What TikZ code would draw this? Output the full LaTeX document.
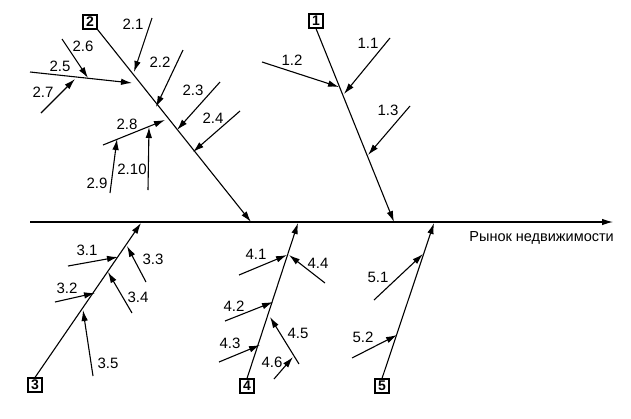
\documentclass[tikz,border=0pt]{standalone}
\usepackage{fontspec}
\setmainfont{Liberation Sans}
\usetikzlibrary{arrows.meta}
\begin{document}
\begin{tikzpicture}[x=1pt,y=-1pt,
  bone/.style={line width=1.1pt,-{Latex[length=11pt,width=6.5pt]}},
  lbl/.style={font=\fontsize{15}{17}\selectfont,inner sep=0pt},
  numbox/.style={draw,line width=1.1pt,font=\fontsize{14}{16}\selectfont\bfseries,inner sep=0.8pt,minimum width=14pt,minimum height=14pt}]
\useasboundingbox (0,0) rectangle (631,418);
% spine
\coordinate (s0) at (30,222);
\coordinate (s1) at (613,222);
\draw[bone] (s0) -- (s1);
\node[lbl,anchor=north east,font=\fontsize{14.5}{16}\selectfont] (res) at (614,231) {Рынок недвижимости};
% bone 1
\node[numbox] (b1) at (316,21) {1};
\coordinate (e1) at (394,222);
\draw[bone] (b1.south) -- (e1);
\coordinate (a11s) at (390,38); \coordinate (a11e) at (344,94);
\coordinate (a12s) at (262,62); \coordinate (a12e) at (339,87);
\coordinate (a13s) at (410,106); \coordinate (a13e) at (368,155);
\draw[bone] (a11s) -- (a11e);
\draw[bone] (a12s) -- (a12e);
\draw[bone] (a13s) -- (a13e);
\node[lbl] (l11) at (368,43) {1.1};
\node[lbl] (l12) at (292,60) {1.2};
\node[lbl] (l13) at (388,110) {1.3};
% bone 2
\node[numbox] (b2) at (90,22) {2};
\coordinate (e2) at (251,222);
\draw[bone] (b2.south east) -- (e2);
\coordinate (a21s) at (152,18); \coordinate (a21e) at (134,72);
\coordinate (a22s) at (183,50); \coordinate (a22e) at (156,107);
\coordinate (a23s) at (220,82); \coordinate (a23e) at (177,130);
\coordinate (a24s) at (240,111); \coordinate (a24e) at (193,152);
\coordinate (a25s) at (30,72); \coordinate (a25e) at (132,83);
\coordinate (a26s) at (62,39); \coordinate (a26e) at (88,78);
\coordinate (a27s) at (41,113); \coordinate (a27e) at (75,79);
\coordinate (a28s) at (103,145); \coordinate (a28e) at (165,120);
\coordinate (a29s) at (110,193); \coordinate (a29e) at (117,139);
\coordinate (a210s) at (148,190); \coordinate (a210e) at (149,127);
\foreach \k in {21,22,23,24,25,26,27,28,29,210}{\draw[bone] (a\k s) -- (a\k e);}
\node[lbl] (l21) at (133,24) {2.1};
\node[lbl] (l22) at (160,62) {2.2};
\node[lbl] (l23) at (193,90) {2.3};
\node[lbl] (l24) at (213,118) {2.4};
\node[lbl] (l25) at (60,66) {2.5};
\node[lbl] (l26) at (83,46) {2.6};
\node[lbl] (l27) at (43,92) {2.7};
\node[lbl] (l28) at (127,124) {2.8};
\node[lbl] (l29) at (97,183) {2.9};
\node[lbl] (l210) at (132,169) {2.10};
% bone 3
\node[numbox] (b3) at (35,385) {3};
\coordinate (e3) at (141,223);
\draw[bone] (b3.north) -- (e3);
\coordinate (a31s) at (68,266); \coordinate (a31e) at (118,257);
\coordinate (a32s) at (55,302); \coordinate (a32e) at (95,293);
\coordinate (a33s) at (146,282); \coordinate (a33e) at (127,246);
\coordinate (a34s) at (132,313); \coordinate (a34e) at (108,272);
\coordinate (a35s) at (93,376); \coordinate (a35e) at (83,310);
\foreach \k in {31,32,33,34,35}{\draw[bone] (a\k s) -- (a\k e);}
\node[lbl] (l31) at (87,250) {3.1};
\node[lbl] (l32) at (67,288) {3.2};
\node[lbl] (l33) at (153,259) {3.3};
\node[lbl] (l34) at (138,297) {3.4};
\node[lbl] (l35) at (108,363) {3.5};
% bone 4
\node[numbox] (b4) at (247,386) {4};
\coordinate (e4) at (298,223);
\draw[bone] (b4.north) -- (e4);
\coordinate (a41s) at (239,275); \coordinate (a41e) at (287,255);
\coordinate (a44s) at (325,283); \coordinate (a44e) at (289,255);
\coordinate (a42s) at (225,321); \coordinate (a42e) at (273,302);
\coordinate (a43s) at (219,362); \coordinate (a43e) at (260,345);
\coordinate (a45s) at (299,364); \coordinate (a45e) at (270,317);
\coordinate (a46s) at (274,379); \coordinate (a46e) at (293,357);
\foreach \k in {41,42,43,44,45,46}{\draw[bone] (a\k s) -- (a\k e);}
\node[lbl] (l41) at (256,254) {4.1};
\node[lbl] (l44) at (318,263) {4.4};
\node[lbl] (l42) at (234,306) {4.2};
\node[lbl] (l43) at (230,343) {4.3};
\node[lbl] (l45) at (298,333) {4.5};
\node[lbl] (l46) at (272,362) {4.6};
% bone 5
\node[numbox] (b5) at (382,386) {5};
\coordinate (e5) at (434,223);
\draw[bone] (b5.north) -- (e5);
\coordinate (a51s) at (374,300); \coordinate (a51e) at (423,254);
\coordinate (a52s) at (352,358); \coordinate (a52e) at (397,335);
\draw[bone] (a51s) -- (a51e);
\draw[bone] (a52s) -- (a52e);
\node[lbl] (l51) at (378,277) {5.1};
\node[lbl] (l52) at (363,337) {5.2};
\end{tikzpicture}
\end{document}
